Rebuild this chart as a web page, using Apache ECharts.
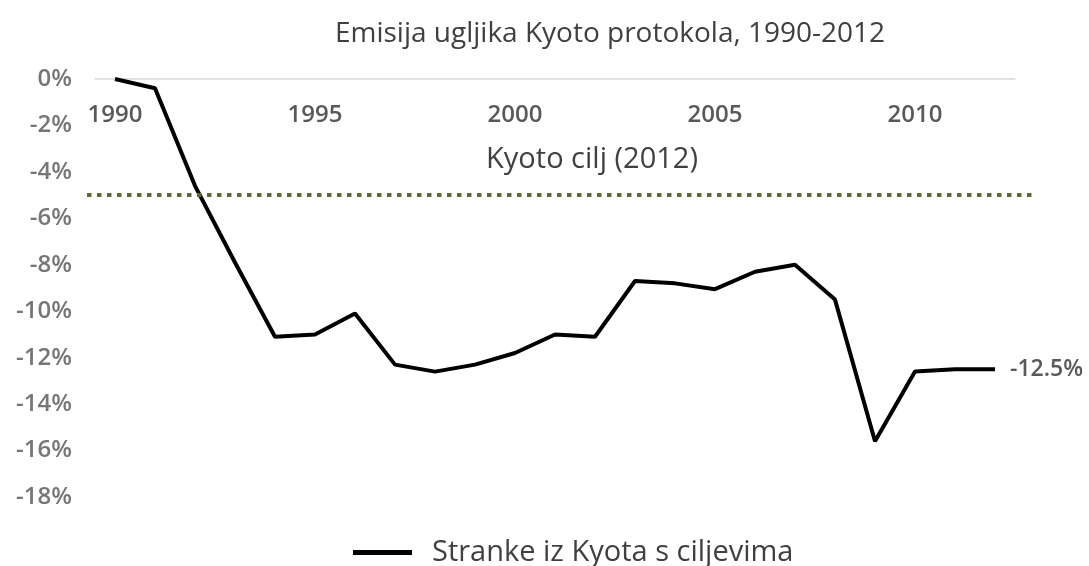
<!DOCTYPE html>
<html>
<head>
<meta charset="utf-8">
<script src="https://cdn.jsdelivr.net/npm/echarts@6/dist/echarts.min.js"></script>
<style>
  html, body { margin: 0; padding: 0; background: #fff; }
  #chart { width: 1089px; height: 566px; }
</style>
</head>
<body>
<div id="chart"></div>
<script>
const years = ['1990', '1991', '1992', '1993', '1994', '1995', '1996', '1997', '1998', '1999', '2000',
  '2001', '2002', '2003', '2004', '2005', '2006', '2007', '2008', '2009', '2010', '2011', '2012']
const emissions = [0, -0.4, -4.6, -7.9, -11.1, -11.0, -10.1, -12.3, -12.6, -12.3, -11.8,
  -11.0, -11.1, -8.7, -8.8, -9.05, -8.3, -8.0, -9.5, -15.6, -12.6, -12.5, -12.5]
const kyotoTarget = -5
const seriesName = 'Stranke iz Kyota s ciljevima'
const titleText = 'Emisija ugljika Kyoto protokola, 1990-2012'
const targetText = 'Kyoto cilj (2012)'

const font = '"Open Sans", "Noto Sans", sans-serif'

const chart = echarts.init(document.getElementById('chart'))

chart.setOption({
  animation: false,
  textStyle: { fontFamily: font },
  title: [
    {
      text: titleText,
      left: 605,
      top: 15,
      textAlign: 'center',
      textStyle: { fontFamily: font, fontSize: 28, fontWeight: 'normal', color: '#404040' }
    },
    {
      text: targetText,
      left: 587,
      top: 140,
      textAlign: 'center',
      textStyle: { fontFamily: font, fontSize: 29, fontWeight: 'normal', color: '#404040' }
    }
  ],
  legend: {
    data: [seriesName],
    top: 533,
    left: 348,
    icon: 'rect',
    itemWidth: 59,
    itemHeight: 5,
    textStyle: { fontFamily: font, fontSize: 29, color: '#404040', padding: [0, 0, 0, 15] }
  },
  grid: [
    { left: 95, right: 74, top: 79, bottom: 69 },
    { left: 87, right: 56, top: 79, bottom: 69 }
  ],
  xAxis: [
    {
      type: 'category',
      gridIndex: 0,
      data: years,
      position: 'top',
      boundaryGap: true,
      axisLine: { show: true, lineStyle: { color: '#d9d9d9', width: 1.5 } },
      axisTick: { show: false },
      axisLabel: {
        inside: true,
        margin: 24,
        interval: (i) => i % 5 === 0,
        color: '#595959',
        fontFamily: font,
        fontSize: 24,
        fontWeight: 600
      }
    },
    { type: 'value', gridIndex: 1, min: 0, max: 1, show: false }
  ],
  yAxis: [
    {
      type: 'value',
      gridIndex: 0,
      min: -18,
      max: 0,
      interval: 2,
      axisLine: { show: false },
      axisTick: { show: false },
      splitLine: { show: false },
      axisLabel: {
        margin: 23,
        formatter: (v) => v + '%',
        color: '#767676',
        fontFamily: font,
        fontSize: 24,
        fontWeight: 600
      }
    },
    { type: 'value', gridIndex: 1, min: -18, max: 0, show: false }
  ],
  series: [
    {
      name: seriesName,
      type: 'line',
      xAxisIndex: 0,
      yAxisIndex: 0,
      data: emissions,
      showSymbol: false,
      lineStyle: { color: '#000', width: 4 },
      itemStyle: { color: '#000' },
      endLabel: {
        show: true,
        distance: 15,
        formatter: (p) => p.value + '%',
        color: '#595959',
        fontFamily: font,
        fontSize: 23,
        fontWeight: 600
      }
    },
    {
      name: 'target',
      type: 'line',
      xAxisIndex: 1,
      yAxisIndex: 1,
      data: [[0, kyotoTarget], [1, kyotoTarget]],
      showSymbol: false,
      silent: true,
      lineStyle: { color: '#5f6838', width: 4, type: [4.5, 5.5] }
    }
  ]
})
</script>
</body>
</html>
